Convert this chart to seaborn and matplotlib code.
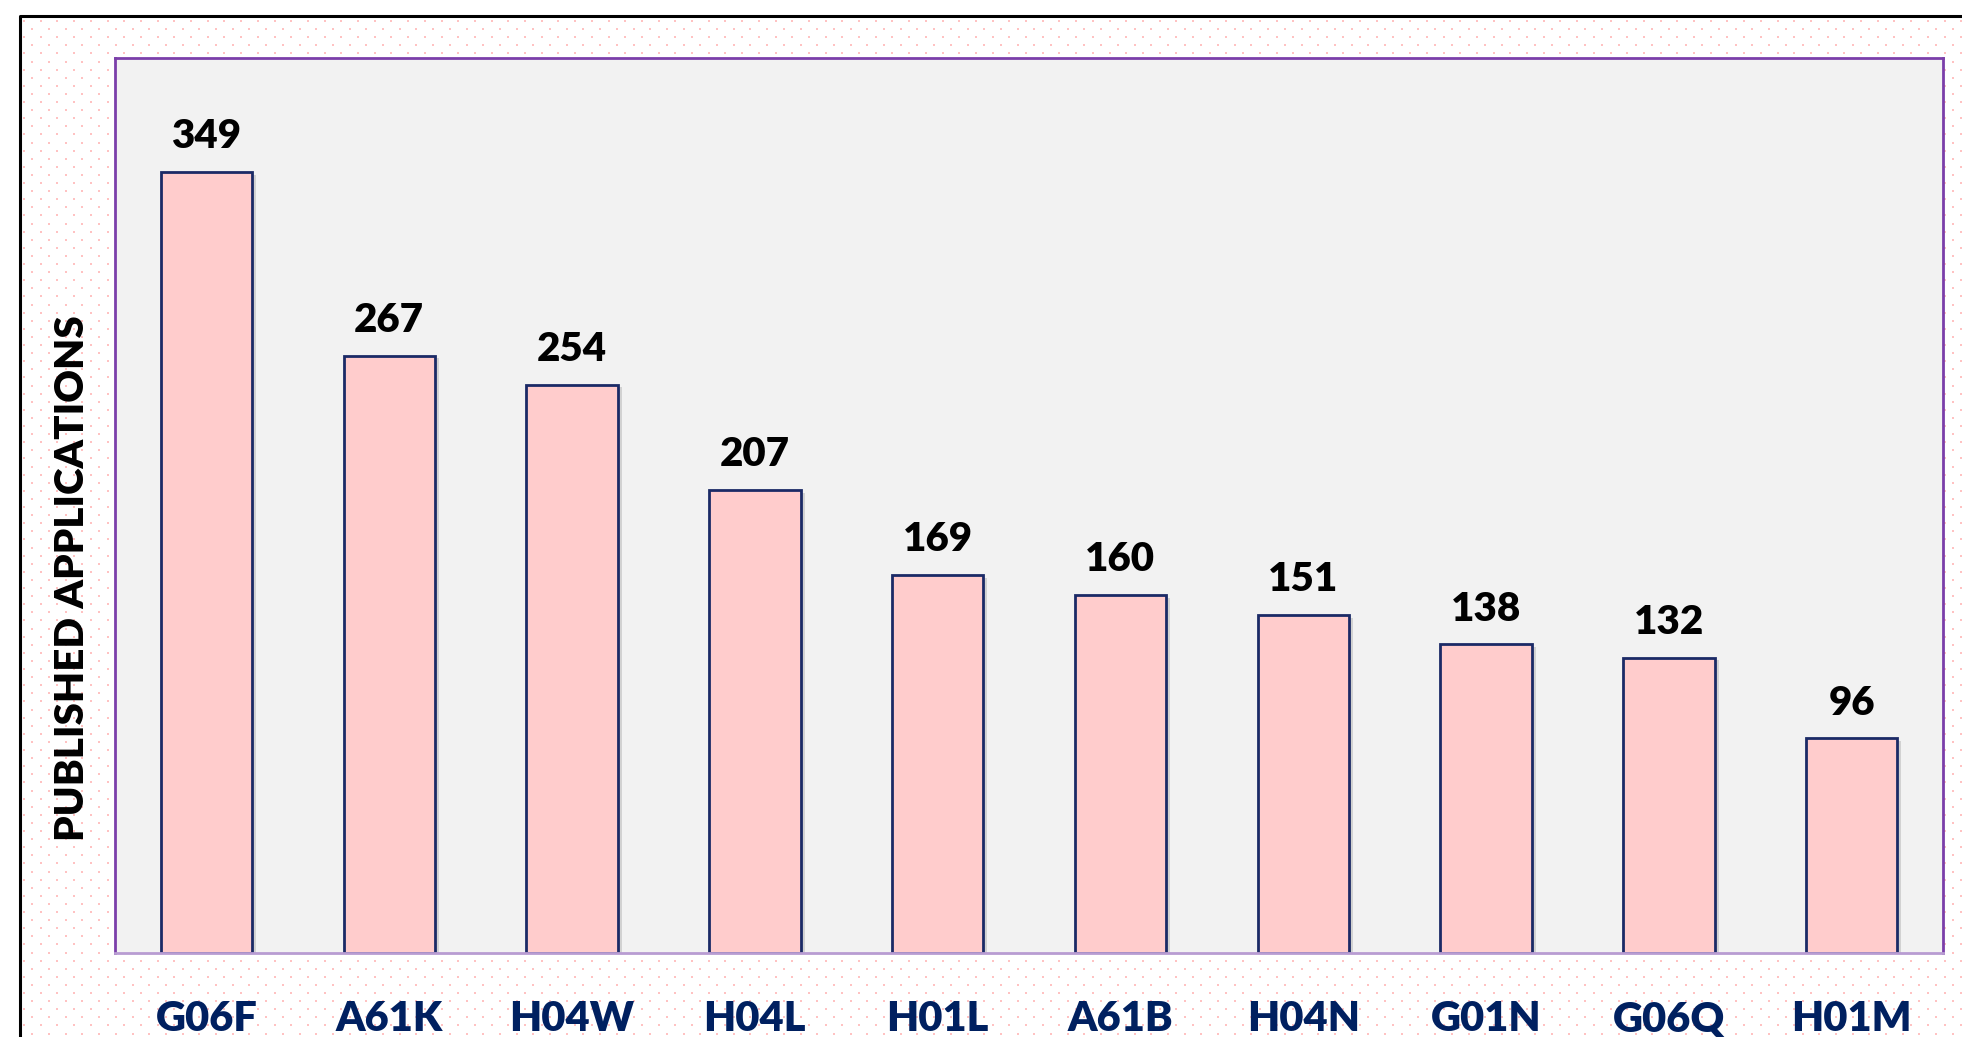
import numpy as np
import pandas as pd
import matplotlib.pyplot as plt
import matplotlib.patheffects as pe
import seaborn as sns

# data
codes = ["G06F", "A61K", "H04W", "H04L", "H01L", "A61B", "H04N", "G01N", "G06Q", "H01M"]
applications = [349, 267, 254, 207, 169, 160, 151, 138, 132, 96]

df = pd.DataFrame({"code": codes, "count": applications})

sns.set_theme(style="white")
plt.rcParams["font.family"] = ["Lato", "DejaVu Sans"]

W, H = 1962, 1037
fig = plt.figure(figsize=(W / 100, H / 100), dpi=100)
fig.patch.set_facecolor("white")

# dotted background + black frame
bg = fig.add_axes([0, 0, 1, 1], zorder=-5)
bg.set_xlim(0, W)
bg.set_ylim(H, 0)
bg.axis("off")
gx = []
gy = []
for i, yy in enumerate(np.arange(21, H, 8.1)):
    off = 0 if i % 2 == 0 else 8.35
    xs = np.arange(24 + off, W, 16.7)
    gx.extend(xs)
    gy.extend([yy] * len(xs))
bg.scatter(gx, gy, s=2.6, marker="s", color="#FFC2C2", linewidths=0)
bg.plot([19.5, 19.5, W], [H, 15.5, 15.5], color="black", lw=2.2, solid_capstyle="projecting")

# main axes
ax = fig.add_axes([115 / W, 1 - 953 / H, (1943 - 115) / W, (953 - 58) / H])
ax.set_facecolor("#F2F2F2")

sns.barplot(
    data=df,
    x="code",
    y="count",
    color="#FFCCCC",
    saturation=1,
    edgecolor="#1B2A66",
    linewidth=2,
    width=0.5,
    ax=ax,
)

for bar in ax.patches:
    bar.set_path_effects([
        pe.SimplePatchShadow(offset=(3, -2), shadow_rgbFace="#8A8A8A", alpha=0.3),
        pe.Normal(),
    ])

ax.bar_label(ax.containers[0], fontsize=29, fontweight="heavy", color="black", padding=12)

ax.set_xlim(-0.5, 9.5)
ax.set_ylim(0, 400)
ax.set_yticks([])
ax.set_xlabel("")
ax.set_ylabel("PUBLISHED APPLICATIONS", fontsize=29, fontweight="heavy", color="black", va="center")
ax.yaxis.set_label_coords(-0.023, 0.419)

ax.tick_params(axis="x", length=0, pad=34)
for lbl in ax.get_xticklabels():
    lbl.set_fontsize(30)
    lbl.set_fontweight("heavy")
    lbl.set_color("#002060")

for side in ["top", "left", "right"]:
    ax.spines[side].set_color("#7B3FAA")
    ax.spines[side].set_linewidth(2)
ax.spines["bottom"].set_color("#B89CD2")
ax.spines["bottom"].set_linewidth(2)

fig.savefig("out.png", dpi=100)
